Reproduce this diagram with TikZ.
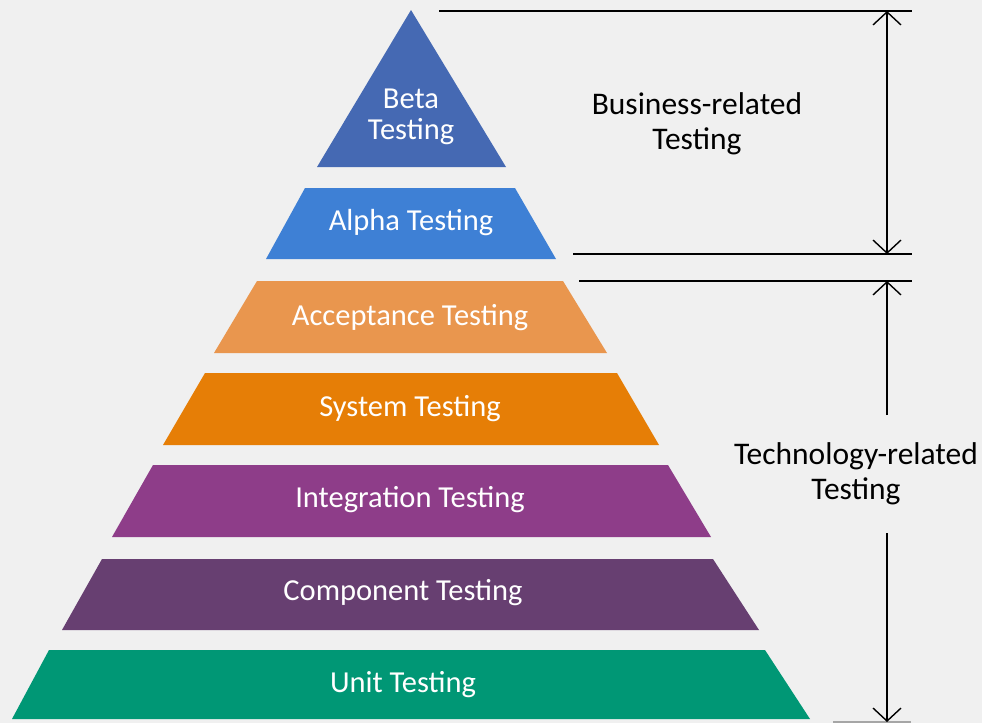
\documentclass[tikz,border=0pt]{standalone}
\usepackage{fontspec}
\setmainfont{Carlito}
\usetikzlibrary{arrows.meta}
\definecolor{bg}{HTML}{F0F0F0}
\definecolor{betac}{HTML}{4569B3}
\definecolor{alphac}{HTML}{3E80D5}
\definecolor{accc}{HTML}{E9964E}
\definecolor{sysc}{HTML}{E67E06}
\definecolor{intc}{HTML}{8E3D89}
\definecolor{compc}{HTML}{673F71}
\definecolor{unitc}{HTML}{009775}
\tikzset{
  layertext/.style={text=white, font=\fontsize{30.5}{31}\selectfont, align=center, inner sep=0pt},
  sidetext/.style={text=black, font=\fontsize{31.5}{35}\selectfont, align=center, inner sep=0pt},
  rule/.style={line width=1.8pt, black},
  dim/.style={line width=1.4pt, black, -{Straight Barb[length=13pt,width=28pt,line width=1.4pt]}},
  dimboth/.style={line width=1.4pt, black, {Straight Barb[length=13pt,width=28pt,line width=1.4pt]}-{Straight Barb[length=13pt,width=28pt,line width=1.4pt]}}
}
\begin{document}
\begin{tikzpicture}[x=1pt,y=-1pt]
\fill[bg] (0,0) rectangle (982,723);
\useasboundingbox (0,0) rectangle (982,723);
% layers
\fill[betac] (411,10) -- (506,167) -- (317,167) -- cycle;
\fill[alphac] (305,188) -- (515,188) -- (556,259) -- (266,259) -- cycle;
\fill[accc] (257,281) -- (563,281) -- (607,353) -- (214,353) -- cycle;
\fill[sysc] (205,373) -- (617,373) -- (659,445) -- (163,445) -- cycle;
\fill[intc] (153,465) -- (668,465) -- (711,537) -- (112,537) -- cycle;
\fill[compc] (102,559) -- (713,559) -- (759,630) -- (62,630) -- cycle;
\fill[unitc] (49,650) -- (765,650) -- (810,719) -- (12,719) -- cycle;
% labels
\node[layertext] (beta) at (411,117) {Beta\\Testing};
\node[layertext] (alpha) at (411,223) {Alpha Testing};
\node[layertext] (acc) at (410,318) {Acceptance Testing};
\node[layertext] (sys) at (410,409) {System Testing};
\node[layertext] (int) at (410,500) {Integration Testing};
\node[layertext] (comp) at (403,593) {Component Testing};
\node[layertext] (unit) at (403,685) {Unit Testing};
% side labels
\node[sidetext] (bus) at (697,124) {Business-related\\Testing};
\node[sidetext] (tech) at (856,474) {Technology-related\\Testing};
% rules
\coordinate (r1a) at (439,11);  \coordinate (r1b) at (912,11);
\coordinate (r2a) at (573,254); \coordinate (r2b) at (912,254);
\coordinate (r3a) at (579,281); \coordinate (r3b) at (912,281);
\coordinate (r4a) at (833,722); \coordinate (r4b) at (911,722);
\draw[rule] (r1a) -- (r1b);
\draw[rule] (r2a) -- (r2b);
\draw[rule] (r3a) -- (r3b);
\draw[line width=1.8pt, gray!70] (r4a) -- (r4b);
% dimension arrows
\coordinate (b1) at (887,11); \coordinate (b2) at (887,254);
\coordinate (t1) at (887,281); \coordinate (t1e) at (887,415);
\coordinate (t2) at (887,722); \coordinate (t2s) at (887,533);
\draw[dimboth] (b1) -- (b2);
\draw[dim] (t1e) -- (t1);
\draw[dim] (t2s) -- (t2);
\end{tikzpicture}
\end{document}
